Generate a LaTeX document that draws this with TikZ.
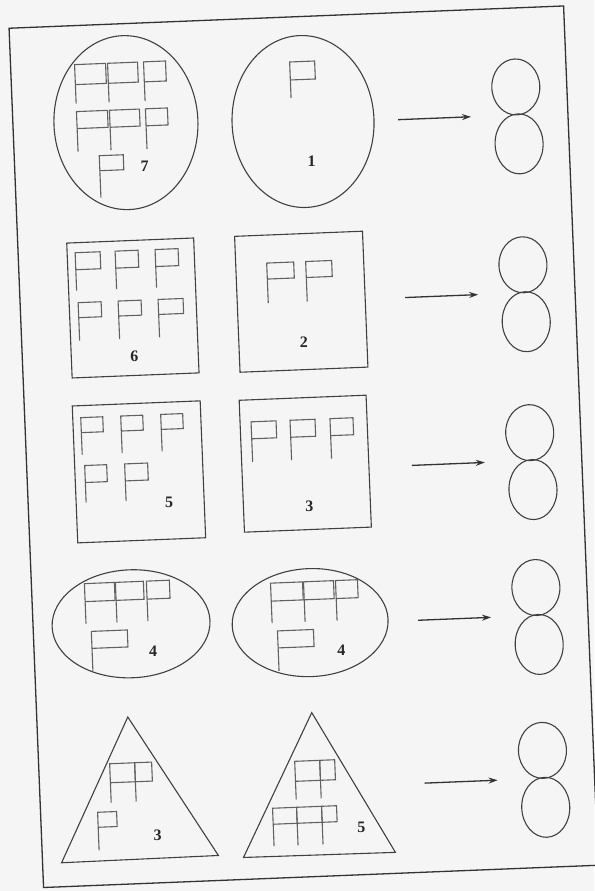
\documentclass[tikz,border=0pt]{standalone}
\usepackage{fontspec}
\setmainfont{Liberation Serif}
\usetikzlibrary{arrows.meta}
% flag: pole top x, y, flag width, flag height, pole length
\newcommand{\drawflag}[5]{\draw [flagline] (#1,#2+#5) -- (#1,#2) -- (#1+#3,#2) -- (#1+#3,#2+#4) -- (#1,#2+#4);}
\tikzset{
  paper/.style={fill=black!4},
  frameline/.style={draw=black!80, line width=1.3pt},
  figline/.style={draw=black!75, line width=1.1pt},
  flagline/.style={draw=black!62, line width=1.1pt},
  eightline/.style={draw=black!75, line width=1.1pt},
  arrowline/.style={draw=black!80, line width=1.3pt, -{Stealth[length=9pt,width=6pt]}},
  num/.style={font=\bfseries\fontsize{16}{18}\selectfont, text=black!85}
}
\begin{document}
\begin{tikzpicture}[x=1pt, y=-1pt]
  \useasboundingbox (0,0) rectangle (594,891);
  \fill [paper] (0,0) rectangle (594,891);
  \begin{scope}[rotate around={2.3:(297,445)}]
    % frame
    \draw [frameline] (26,17) rectangle (581,877);
    % row 1
    \draw [figline] (139,116) ellipse [x radius=72pt, y radius=87pt];
    \drawflag{90}{56}{31}{20}{39}\drawflag{123}{56}{30}{20}{39}\drawflag{159}{56}{22}{20}{39}
    \drawflag{90}{103}{31}{17}{40}\drawflag{123}{103}{30}{17}{40}\drawflag{159}{103}{22}{17}{40}
    \drawflag{111}{148}{24}{15}{42}
    \node [num] (n7) at (156,160) {7};
    \draw [figline] (316,122) ellipse [x radius=71pt, y radius=86pt];
    \drawflag{305}{62}{25}{18}{36}
    \node [num] (n1) at (323,162) {1};
    % row 2
    \draw [figline] (75,234) rectangle (202,369);
    \drawflag{83}{244}{25}{17}{38}\drawflag{123}{244}{23}{17}{38}\drawflag{163}{244}{23}{17}{38}
    \drawflag{84}{294}{23}{15}{38}\drawflag{124}{294}{23}{15}{38}\drawflag{164}{294}{25}{15}{38}
    \node [num] (n6) at (138,350) {6};
    \draw [figline] (243,234) rectangle (371,370);
    \drawflag{274}{262}{27}{16}{40}\drawflag{313}{262}{26}{16}{40}
    \node [num] (n2) at (308,343) {2};
    % row 3
    \draw [figline] (74,397) rectangle (202,534);
    \drawflag{82}{409}{22}{15}{37}\drawflag{122}{409}{22}{15}{37}\drawflag{162}{409}{22}{15}{37}
    \drawflag{84}{457}{22}{17}{37}\drawflag{124}{457}{23}{17}{37}
    \node [num] (n5) at (167,497) {5};
    \draw [figline] (241,398) rectangle (368,530);
    \drawflag{252}{420}{25}{17}{40}\drawflag{291}{420}{25}{17}{40}\drawflag{331}{420}{23}{17}{40}
    \node [num] (n3) at (307,507) {3};
    % row 4
    \draw [figline] (124,617) ellipse [x radius=79pt, y radius=54pt];
    \drawflag{79}{575}{30}{18}{40}\drawflag{110}{575}{28}{18}{40}\drawflag{141}{575}{23}{18}{40}
    \drawflag{84}{623}{36}{17}{40}
    \node [num] (n4a) at (145,645) {4};
    \draw [figline] (303,623) ellipse [x radius=78pt, y radius=54pt];
    \drawflag{265}{582}{32}{18}{40}\drawflag{298}{582}{30}{18}{40}\drawflag{330}{582}{22}{18}{40}
    \drawflag{270}{630}{36}{17}{40}
    \node [num] (n4b) at (333,652) {4};
    % row 5
    \draw [figline] (117,710) -- (45,853) -- (202,852) -- cycle;
    \drawflag{97}{756}{25}{19}{39}\drawflag{122}{756}{17}{19}{39}
    \drawflag{83}{804}{19}{15}{38}
    \node [num] (n3b) at (142,829) {3};
    \draw [figline] (301,713) -- (227,855) -- (379,856) -- cycle;
    \drawflag{282}{761}{25}{20}{38}\drawflag{307}{761}{15}{20}{38}
    \drawflag{258}{807}{24}{16}{38}\drawflag{282}{807}{25}{16}{38}\drawflag{307}{807}{15}{16}{38}
    \node [num] (n5b) at (346,830) {5};
    % arrows and eights
    \foreach \y [count=\i] in {124,302,470,625,788} {
      \coordinate (s\i) at (411,\y);
      \coordinate (e\i) at (484,\y);
      \draw [arrowline] (s\i) -- (e\i);
      \draw [eightline] (530,\y-28) ellipse [x radius=24pt, y radius=28pt];
      \draw [eightline] (531,\y+29) ellipse [x radius=24pt, y radius=30pt];
    }
  \end{scope}
\end{tikzpicture}
\end{document}
